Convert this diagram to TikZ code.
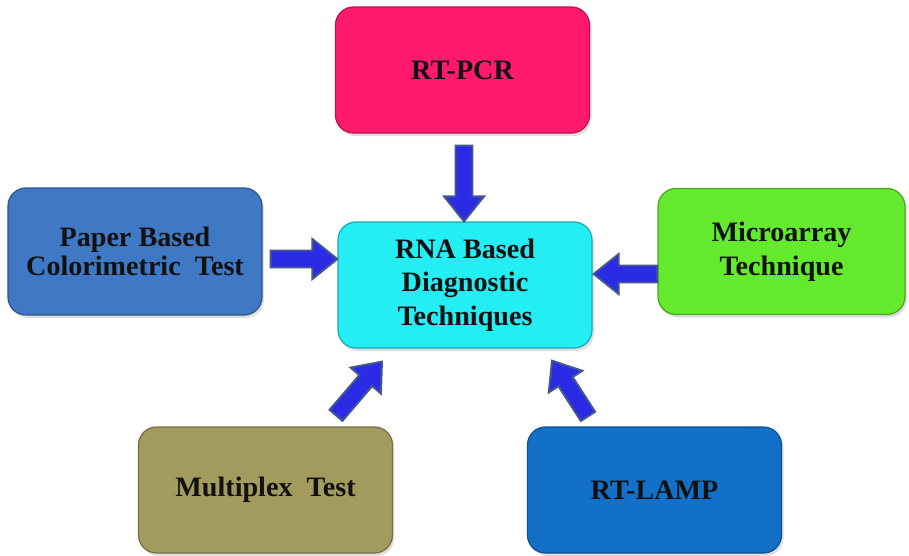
\documentclass[tikz,border=0pt]{standalone}
\usepackage{fontspec}
\setmainfont{Liberation Serif}
\usepackage{xcolor}
\usetikzlibrary{calc,positioning,shadows}
\definecolor{pcrpink}{HTML}{FF1A6E}
\definecolor{rnacyan}{HTML}{22EEF4}
\definecolor{paperblue}{HTML}{3F78C4}
\definecolor{microgreen}{HTML}{64EA2C}
\definecolor{multkhaki}{HTML}{A39A5E}
\definecolor{lampblue}{HTML}{1270C8}
\definecolor{arrowblue}{HTML}{2B2BE6}
\definecolor{arrowedge}{HTML}{44598A}
\definecolor{ink}{HTML}{111111}
\tikzset{
  box/.style={rectangle, rounded corners=0.36cm, minimum width=5.08cm, minimum height=2.52cm,
    align=center, text=ink, font=\bfseries\fontsize{16}{18}\selectfont,
    line width=0.7pt, drop shadow={opacity=0.25, shadow xshift=0.04cm, shadow yshift=-0.06cm}},
  tint/.style={box, fill=#1, draw=#1!72!black},
  blk/.style={draw=arrowedge, fill=arrowblue, line width=1.1pt, line join=miter,
    to path={
      ($(\tikztostart)!0.17cm!90:(\tikztotarget)$)
      -- ($($(\tikztotarget)!0.5cm!(\tikztostart)$)!0.17cm!-90:(\tikztostart)$)
      -- ($($(\tikztotarget)!0.5cm!(\tikztostart)$)!0.40cm!-90:(\tikztostart)$)
      -- (\tikztotarget)
      -- ($($(\tikztotarget)!0.5cm!(\tikztostart)$)!0.40cm!90:(\tikztostart)$)
      -- ($($(\tikztotarget)!0.5cm!(\tikztostart)$)!0.17cm!90:(\tikztostart)$)
      -- ($(\tikztostart)!0.17cm!-90:(\tikztotarget)$)
      -- cycle}}
}
\begin{document}
\begin{tikzpicture}
  \useasboundingbox (0,0) rectangle (18.18,11.10);

  % boxes
  \node[tint=pcrpink] (pcr) at (9.25,9.70) {RT-PCR};
  \node[tint=rnacyan, font=\bfseries\fontsize{16}{19}\selectfont] (rna) at (9.30,5.40) {RNA Based\\Diagnostic\\Techniques};
  \node[tint=paperblue, font=\bfseries\fontsize{16}{16.5}\selectfont, minimum height=2.54cm] (paper) at (2.70,6.07) {Paper Based\\Colorimetric~ Test};
  \node[tint=microgreen, font=\bfseries\fontsize{16}{19.5}\selectfont, minimum width=4.94cm] (micro) at (15.63,6.07) {Microarray\\Technique};
  \node[tint=multkhaki] (mult) at (5.31,1.30) {Multiplex~ Test};
  \node[tint=lampblue] (lamp) at (13.09,1.30) {RT-LAMP};

  % arrow ends
  \coordinate (pcr-out) at ($(pcr.south -| rna.north)+(-0.02,-0.24)$);
  \coordinate (rna-top) at ($(rna.north)+(-0.02,0)$);
  \coordinate (paper-out) at ($(paper.east)+(0.16,-0.15)$);
  \coordinate (rna-left) at ($(rna.west)+(0,0.52)$);
  \coordinate (micro-out) at ($(micro.west)+(0,-0.45)$);
  \coordinate (rna-right) at ($(rna.east)+(0.02,0.22)$);
  \coordinate (mult-out) at ($(mult.north)+(1.41,0.22)$);
  \coordinate (rna-bl) at ($(rna.south)+(-1.66,-0.26)$);
  \coordinate (lamp-out) at ($(lamp.north)+(-1.33,0.20)$);
  \coordinate (rna-br) at ($(rna.south)+(1.74,-0.24)$);

  % arrows
  \draw[blk] (pcr-out) to (rna-top);
  \draw[blk] (paper-out) to (rna-left);
  \draw[blk] (micro-out) to (rna-right);
  \draw[blk] (mult-out) to (rna-bl);
  \draw[blk] (lamp-out) to (rna-br);
\end{tikzpicture}
\end{document}
